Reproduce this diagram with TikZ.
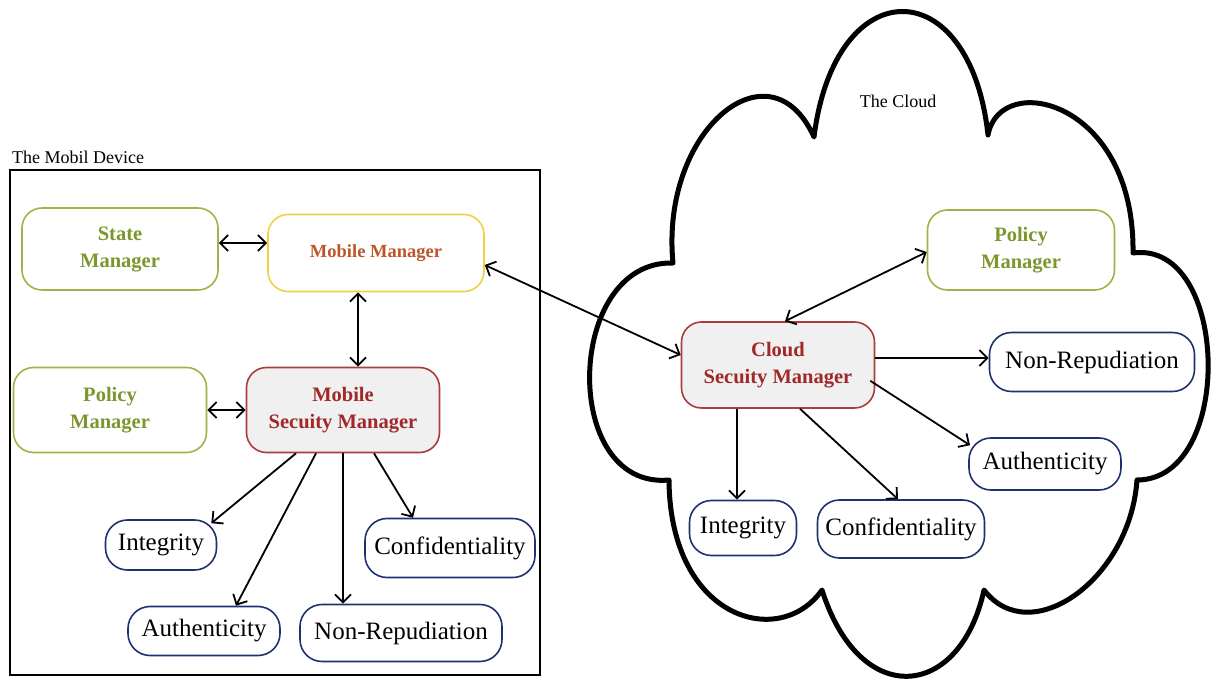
\documentclass[tikz,border=0pt]{standalone}
\usepackage{fontspec}
\setmainfont{Liberation Serif}
\usetikzlibrary{arrows.meta,calc}
\definecolor{txtgreen}{RGB}{125,150,45}
\definecolor{boxgreen}{RGB}{160,180,70}
\definecolor{boxyellow}{RGB}{238,208,70}
\definecolor{txtorange}{RGB}{190,85,40}
\definecolor{boxred}{RGB}{170,60,60}
\definecolor{txtred}{RGB}{160,40,40}
\definecolor{fillgray}{RGB}{240,240,240}
\definecolor{boxblue}{RGB}{30,50,110}
\begin{document}
\begin{tikzpicture}[x=1pt,y=-1pt,
  box/.style={draw, rounded corners=20pt, line width=1.6pt, align=center, inner sep=0pt, fill=white},
  greenbox/.style={box, draw=boxgreen, text=txtgreen, font=\fontsize{20.5}{27}\selectfont\bfseries},
  yellowbox/.style={box, draw=boxyellow, text=txtorange, font=\fontsize{18.5}{22}\selectfont\bfseries},
  redbox/.style={box, draw=boxred, fill=fillgray, text=txtred, font=\fontsize{20.5}{27}\selectfont\bfseries},
  bluebox/.style={box, draw=boxblue, text=black, rounded corners=22pt, font=\fontsize{25}{28}\selectfont},
  label/.style={font=\fontsize{18}{22}\selectfont, inner sep=0pt},
  arr/.style={-{Straight Barb[length=8pt,width=16pt,line width=1.8pt]}, line width=1.8pt},
  darr/.style={{Straight Barb[length=8pt,width=16pt,line width=1.8pt]}-{Straight Barb[length=8pt,width=16pt,line width=1.8pt]}, line width=1.8pt}
]
\useasboundingbox (0,0) rectangle (1213,684);
\fill[white] (0,0) rectangle (1213,684);

% cloud outline
\draw[line width=5pt, line join=round]
  (673,263) .. controls (660,130) and (770,40) .. (814,137)
  .. controls (835,-30) and (970,-30) .. (988,135)
  .. controls (1000,70) and (1135,100) .. (1133,253)
  .. controls (1230,240) and (1235,480) .. (1137,480)
  .. controls (1130,580) and (1030,650) .. (984,590)
  .. controls (960,700) and (860,710) .. (822,590)
  .. controls (780,650) and (670,620) .. (669,480)
  .. controls (560,490) and (565,260) .. (673,263) -- cycle;
\node[label] (cloudlbl) at (898,101) {The Cloud};

% mobile device frame
\node[draw, line width=2pt, minimum width=530pt, minimum height=505pt, inner sep=0pt] (frame) at (275,422.5) {};
\node[label, anchor=west] (devlbl) at (12,157) {The Mobil Device};

% mobile side nodes
\node[greenbox, minimum width=196pt, minimum height=82pt] (state) at (120,249) {State\\Manager};
\node[yellowbox, minimum width=216pt, minimum height=77pt] (mm) at (376,253) {Mobile Manager};
\node[greenbox, minimum width=193pt, minimum height=85pt] (pol) at (110,410) {Policy\\Manager};
\node[redbox, minimum width=193pt, minimum height=85pt] (msm) at (343,410) {Mobile\\Secuity Manager};
\node[bluebox, minimum width=111pt, minimum height=50pt] (integ) at (161,545) {Integrity};
\node[bluebox, minimum width=170pt, minimum height=59pt] (conf) at (450,548) {Confidentiality};
\node[bluebox, minimum width=152pt, minimum height=49pt] (auth) at (204,631) {Authenticity};
\node[bluebox, minimum width=202pt, minimum height=57pt] (nonrep) at (401,633) {Non-Repudiation};

% cloud side nodes
\node[greenbox, minimum width=187pt, minimum height=80pt] (cpol) at (1021,250) {Policy\\Manager};
\node[redbox, minimum width=193pt, minimum height=86pt] (csm) at (778,365) {Cloud\\Secuity Manager};
\node[bluebox, minimum width=205pt, minimum height=59pt] (cnonrep) at (1092,362) {Non-Repudiation};
\node[bluebox, minimum width=152pt, minimum height=52pt] (cauth) at (1045,464) {Authenticity};
\node[bluebox, minimum width=107pt, minimum height=55pt] (cinteg) at (743,528) {Integrity};
\node[bluebox, minimum width=167pt, minimum height=58pt] (cconf) at (901,529) {Confidentiality};

% mobile connectors (yshift is in page units: positive = up)
\draw[darr] ([yshift=6pt]state.east) -- ([yshift=10pt]mm.west);
\draw[darr] ([xshift=-18pt]mm.south) -- ([xshift=15pt]msm.north);
\draw[darr] (pol.east) -- (msm.west);
\draw[arr] ([xshift=-47pt]msm.south) -- ([xshift=-6pt,yshift=-4pt]integ.north east);
\draw[arr] ([xshift=-27pt]msm.south) -- ([xshift=32pt]auth.north);
\draw[arr] (msm.south) -- ([xshift=-58pt]nonrep.north);
\draw[arr] ([xshift=31pt]msm.south) -- ([xshift=-37pt]conf.north);

% link mobile - cloud
\draw[darr] ([yshift=-12pt]mm.east) -- ([yshift=10pt]csm.west);

% cloud connectors
\draw[darr] ([yshift=-2pt]cpol.west) -- ([xshift=7pt]csm.north);
\draw[arr] ([yshift=7pt]csm.east) -- ([yshift=4pt]cnonrep.west);
\draw[arr] ([xshift=-5pt,yshift=28pt]csm.south east) -- ([xshift=-75pt,yshift=-8pt]cauth.north);
\draw[arr] ([xshift=-41pt]csm.south) -- ([xshift=-6pt]cinteg.north);
\draw[arr] ([xshift=22pt]csm.south) -- ([xshift=-3pt]cconf.north);
\end{tikzpicture}
\end{document}
